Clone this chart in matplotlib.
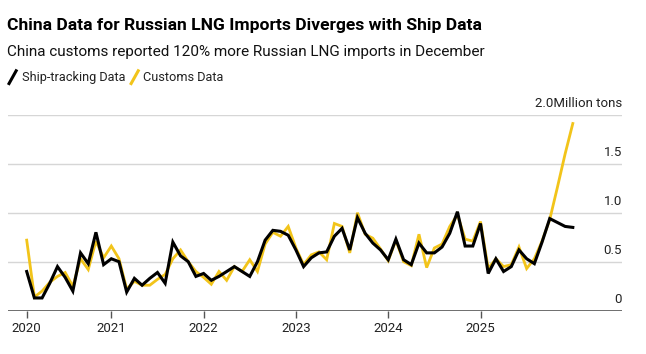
import matplotlib
matplotlib.use("Agg")
import matplotlib.pyplot as plt
from matplotlib.lines import Line2D
import matplotlib.transforms as mtransforms
import numpy as np

plt.rcParams['font.family'] = ['Roboto', 'DejaVu Sans']

# monthly values, Jan 2020 - Dec 2025 (million tons)
ship_tracking = [0.40, 0.13, 0.13, 0.28, 0.45, 0.34, 0.20, 0.59, 0.48, 0.80, 0.47, 0.53,
                 0.50, 0.19, 0.33, 0.26, 0.33, 0.39, 0.28, 0.70, 0.56, 0.50, 0.35, 0.38,
                 0.31, 0.35, 0.40, 0.45, 0.40, 0.35, 0.50, 0.72, 0.82, 0.81, 0.77, 0.62,
                 0.45, 0.54, 0.59, 0.60, 0.76, 0.84, 0.62, 0.95, 0.79, 0.69, 0.62, 0.52,
                 0.73, 0.52, 0.47, 0.69, 0.59, 0.59, 0.65, 0.79, 1.01, 0.66, 0.66, 0.89,
                 0.38, 0.53, 0.40, 0.45, 0.62, 0.53, 0.48, 0.70, 0.94, 0.90, 0.86, 0.85]
customs = [0.72, 0.14, 0.20, 0.29, 0.35, 0.39, 0.25, 0.53, 0.42, 0.71, 0.54, 0.66,
           0.53, 0.22, 0.30, 0.26, 0.26, 0.32, 0.37, 0.53, 0.62, 0.50, 0.40, 0.34,
           0.27, 0.40, 0.31, 0.45, 0.40, 0.52, 0.40, 0.68, 0.80, 0.76, 0.86, 0.64,
           0.47, 0.57, 0.60, 0.52, 0.89, 0.86, 0.59, 1.00, 0.78, 0.74, 0.63, 0.51,
           0.72, 0.50, 0.46, 0.78, 0.44, 0.64, 0.68, 0.86, 0.98, 0.73, 0.71, 0.91,
           0.43, 0.53, 0.45, 0.47, 0.65, 0.43, 0.53, 0.71, 0.93, 1.26, 1.60, 1.91]
year_labels = ['2020', '2021', '2022', '2023', '2024', '2025']
y_ticks = [0, 0.5, 1.0, 1.5, 2.0]
y_labels = ['0', '0.5', '1.0', '1.5', '2.0Million tons']

# months counted from 1 Jan 2020, points plotted at month end
months = np.arange(1, len(customs) + 1)
year_ticks = [1, 12, 24, 36, 48, 60]

YELLOW = '#f2c41a'
GRID = '#d6d6d6'

fig = plt.figure(figsize=(6.46, 3.54), dpi=100)
ax = fig.add_axes([0.0124, 0.1223, 0.9505, 0.5537])

for v in y_ticks[1:]:
    ax.axhline(v, color=GRID, lw=1.0, zorder=0)
ax.axhline(0, color='#555555', lw=1.2, zorder=1)

ax.plot(months, customs, color=YELLOW, lw=2.0, solid_joinstyle='miter', zorder=2)
ax.plot(months, ship_tracking, color='black', lw=2.2, solid_joinstyle='miter', zorder=3)

ax.set_xlim(-1.43, 78.4)
ax.set_ylim(0, 2.0)
for s in ax.spines.values():
    s.set_visible(False)
ax.set_yticks([])
ax.set_xticks(year_ticks)
ax.set_xticklabels(year_labels, fontsize=9.5, color='#222222')
ax.tick_params(axis='x', length=5, width=1, color='#555555', pad=3)

trans = mtransforms.blended_transform_factory(ax.transAxes, ax.transData)
trans = mtransforms.offset_copy(trans, fig=fig, x=0, y=3.5, units='points')
for v, lab in zip(y_ticks, y_labels):
    ax.text(1.0, v, lab, transform=trans, ha='right', va='bottom',
            fontsize=9.5, color='#222222')

fig.text(0.011, 0.928, 'China Data for Russian LNG Imports Diverges with Ship Data',
         fontsize=12.6, fontweight='bold', color='black', va='center')
fig.text(0.011, 0.852, 'China customs reported 120% more Russian LNG imports in December',
         fontsize=11.0, color='#111111', va='center')

# legend
ly = 0.782
fig.add_artist(Line2D([0.014, 0.025], [ly - 0.018, ly + 0.018], color='black', lw=2.2,
                      transform=fig.transFigure))
fig.text(0.034, ly, 'Ship-tracking Data', fontsize=9.2, color='#222222', va='center')
fig.add_artist(Line2D([0.203, 0.214], [ly - 0.018, ly + 0.018], color=YELLOW, lw=2.2,
                      transform=fig.transFigure))
fig.text(0.222, ly, 'Customs Data', fontsize=9.2, color='#222222', va='center')

fig.savefig('out.png', dpi=100)
